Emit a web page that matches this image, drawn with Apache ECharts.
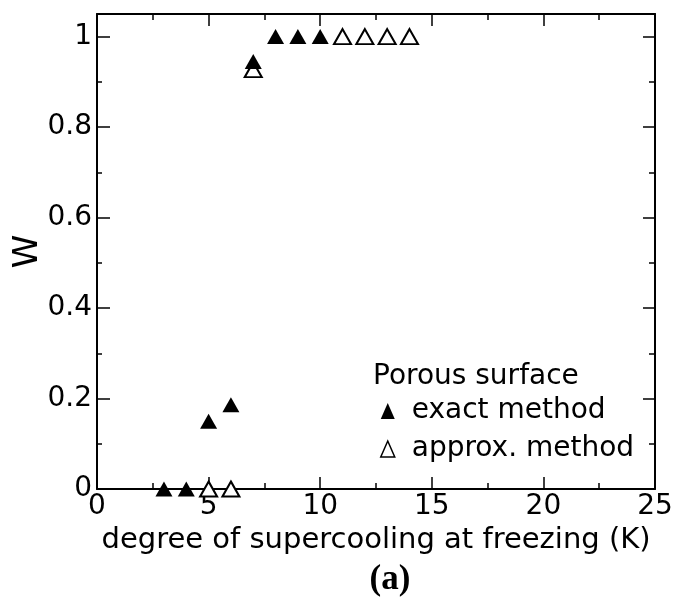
<!DOCTYPE html>
<html><head><meta charset="utf-8">
<script src="https://cdn.jsdelivr.net/npm/echarts@6/dist/echarts.min.js"></script>
<style>html,body{margin:0;padding:0;background:#fff}#c{width:675px;height:607px}</style>
</head><body><div id="c"></div>
<script>
// Data
const exactX = [3, 4, 5, 6, 7, 8, 9, 10];
const exactW = [0, 0, 0.15, 0.186, 0.945, 1, 1, 1];
const approxX = [5, 6, 7, 11, 12, 13, 14];
const approxW = [0, 0, 0.927, 1, 1, 1, 1];
const xTickLabels = ['0', '5', '10', '15', '20', '25'];
const yTickLabels = ['0', '0.2', '0.4', '0.6', '0.8', '1'];
const seriesNames = ['exact method', 'approx. method'];
const legendTitle = 'Porous surface';
const xTitle = 'degree of supercooling at freezing (K)';
const yTitle = 'W';
const panelLabel = '(a)';

const FONT = 'DejaVu Sans';
const chart = echarts.init(document.getElementById('c'), null, {renderer: 'canvas'});

const pairs = (xs, ys) => xs.map((x, i) => [x, ys[i]]);
const yFmt = v => {
  const s = (+v.toFixed(2)).toString();
  return yTickLabels.indexOf(s) >= 0 ? s : '';
};
const xFmt = v => {
  const s = (+v.toFixed(2)).toString();
  return xTickLabels.indexOf(s) >= 0 ? s : '';
};
const lineStyle = {color: '#000', width: 2};

chart.setOption({
  backgroundColor: '#fff',
  animation: false,
  textStyle: {fontFamily: FONT, color: '#000'},
  grid: {left: 97, right: 20, top: 14, bottom: 118, containLabel: false, outerBoundsMode: 'none'},
  title: {
    text: panelLabel, left: 385, top: 557, textAlign: 'center',
    textStyle: {fontFamily: 'Liberation Serif', fontWeight: 'bold', fontSize: 35, color: '#000'}
  },
  legend: {
    orient: 'vertical', left: 380, top: 397, padding: 0, itemWidth: 14, itemHeight: 16, itemGap: 10,
    icon: 'triangle', symbolKeepAspect: false,
    textStyle: {fontFamily: FONT, fontSize: 28, color: '#000', padding: [0, 0, 0, 12]},
    data: [
      {name: seriesNames[0], itemStyle: {color: '#000'}},
      {name: seriesNames[1], itemStyle: {color: '#fff', borderColor: '#000', borderWidth: 1.5}}
    ]
  },
  graphic: [{
    type: 'text', left: 373, top: 363,
    style: {text: legendTitle, font: '28px "DejaVu Sans"', fill: '#000'}
  }],
  xAxis: [{
    type: 'value', min: 0, max: 25, interval: 5, position: 'bottom',
    name: xTitle, nameLocation: 'middle', nameGap: 37, nameMoveOverlap: false,
    nameTextStyle: {fontFamily: FONT, fontSize: 29, color: '#000'},
    axisLine: {show: true, onZero: false, lineStyle: lineStyle},
    axisTick: {show: true, inside: true, length: 12, lineStyle: {color: '#000', width: 1.5}},
    minorTick: {show: true, splitNumber: 2, length: 6, lineStyle: {color: '#000', width: 1.5}},
    axisLabel: {formatter: xFmt, fontFamily: FONT, fontSize: 28, color: '#000', margin: 4},
    splitLine: {show: false}
  }, {
    type: 'value', min: 0, max: 25, interval: 5, position: 'top',
    axisLine: {show: true, onZero: false, lineStyle: lineStyle},
    axisTick: {show: true, inside: true, length: 12, lineStyle: {color: '#000', width: 1.5}},
    minorTick: {show: true, splitNumber: 2, length: 6, lineStyle: {color: '#000', width: 1.5}},
    axisLabel: {show: false}, splitLine: {show: false}
  }],
  yAxis: [{
    type: 'value', min: 0, max: 1.05, interval: 0.2, position: 'left',
    name: yTitle, nameLocation: 'middle', nameRotate: 90, nameGap: 52, nameMoveOverlap: false,
    nameTextStyle: {fontFamily: FONT, fontSize: 34, color: '#000'},
    axisLine: {show: true, onZero: false, lineStyle: lineStyle},
    axisTick: {show: true, inside: true, length: 13, lineStyle: {color: '#000', width: 1.5}},
    minorTick: {show: true, splitNumber: 2, length: 5, lineStyle: {color: '#000', width: 1.5}},
    axisLabel: {formatter: yFmt, fontFamily: FONT, fontSize: 28, color: '#000', margin: 5},
    splitLine: {show: false}
  }, {
    type: 'value', min: 0, max: 1.05, interval: 0.2, position: 'right',
    axisLine: {show: true, onZero: false, lineStyle: lineStyle},
    axisTick: {show: true, inside: true, length: 12, lineStyle: {color: '#000', width: 1.5}},
    minorTick: {show: true, splitNumber: 2, length: 6, lineStyle: {color: '#000', width: 1.5}},
    axisLabel: {show: false}, splitLine: {show: false}
  }],
  series: [{
    name: seriesNames[1], type: 'scatter', xAxisIndex: 0, yAxisIndex: 0,
    symbol: 'triangle', symbolSize: [17, 15],
    itemStyle: {color: '#fff', borderColor: '#000', borderWidth: 2, opacity: 1},
    emphasis: {disabled: true},
    data: pairs(approxX, approxW), z: 3
  }, {
    name: seriesNames[0], type: 'scatter', xAxisIndex: 0, yAxisIndex: 0,
    symbol: 'triangle', symbolSize: [17, 15],
    itemStyle: {color: '#000', opacity: 1},
    emphasis: {disabled: true},
    data: pairs(exactX, exactW), z: 4
  }]
});
</script></body></html>
